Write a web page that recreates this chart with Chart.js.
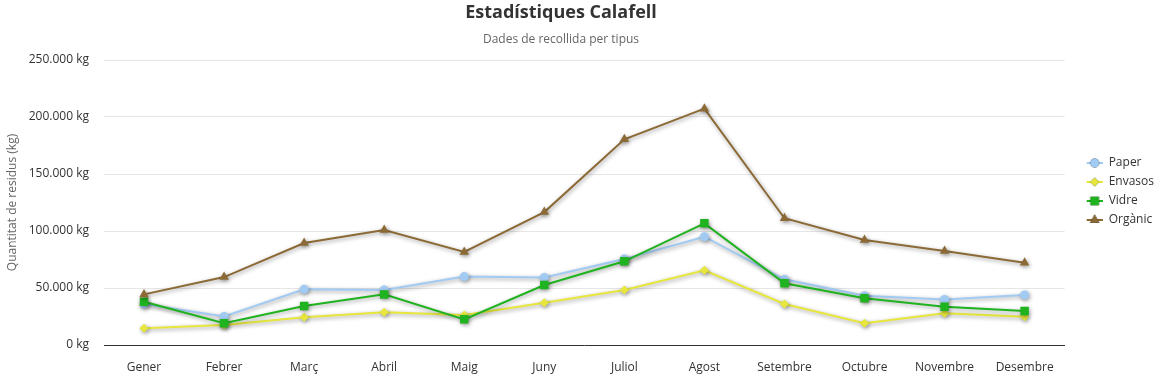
<!DOCTYPE html>
<html>
<head>
<meta charset="utf-8">
<script src="https://cdn.jsdelivr.net/npm/chart.js@4.4.1/dist/chart.umd.min.js"></script>
<style>
  html, body { margin: 0; padding: 0; background: #fff; }
  #wrap { width: 1160px; height: 377px; }
</style>
</head>
<body>
<div id="wrap"><canvas id="calafell-chart"></canvas></div>
<script>
// Dades llegides del gràfic (kg per mes)
const mesos = ['Gener', 'Febrer', 'Març', 'Abril', 'Maig', 'Juny', 'Juliol', 'Agost', 'Setembre', 'Octubre', 'Novembre', 'Desembre'];
const paper = [36000, 25000, 48800, 48200, 60000, 59300, 75400, 95000, 57600, 43300, 40000, 43900];
const envasos = [14600, 17500, 24300, 28700, 26300, 37100, 48200, 65500, 36000, 19000, 27800, 24800];
const vidre = [38000, 19000, 34200, 44400, 22500, 52600, 73400, 106700, 54100, 41000, 33600, 29800];
const organic = [44400, 59600, 89500, 100900, 81600, 116600, 180400, 207300, 111200, 92100, 82400, 72100];
const yTicks = [0, 50000, 100000, 150000, 200000, 250000];

const FONT = 'Open Sans, sans-serif';

const series = [
  { label: 'Paper', data: paper, color: '#a2cbf4', style: 'circle', radius: 4.5 },
  { label: 'Envasos', data: envasos, color: '#e6e63c', style: 'rectRot', radius: 4.5 },
  { label: 'Vidre', data: vidre, color: '#1fb31f', style: 'rect', radius: 6 },
  { label: 'Orgànic', data: organic, color: '#8c6a36', style: 'triangle', radius: 5.5 },
];

function formatKg(v) {
  return String(v).replace(/\B(?=(\d{3})+(?!\d))/g, '.') + ' kg';
}

// Símbol de la llegenda: línia curta amb el marcador al mig
// (el canvas té un marge transparent a l'esquerra)
function legendSymbol(s) {
  const c = document.createElement('canvas');
  c.width = 31;
  c.height = 12;
  const g = c.getContext('2d');
  g.strokeStyle = s.color;
  g.lineWidth = 2;
  g.beginPath();
  g.moveTo(15, 6);
  g.lineTo(31, 6);
  g.stroke();
  Chart.helpers.drawPoint(g, { pointStyle: s.style, radius: s.radius, rotation: 0, borderWidth: 0 }, 23, 6);
  g.fillStyle = s.color;
  g.fill();
  return c;
}

// Ombra a les línies
const shadowPlugin = {
  id: 'lineShadow',
  beforeDatasetDraw(chart) {
    const ctx = chart.ctx;
    ctx.save();
    ctx.shadowColor = 'rgba(0, 0, 0, 0.4)';
    ctx.shadowBlur = 4;
    ctx.shadowOffsetX = 1;
    ctx.shadowOffsetY = 1.5;
  },
  afterDatasetDraw(chart) {
    chart.ctx.restore();
  },
};

const symbols = series.map(legendSymbol);

new Chart(document.getElementById('calafell-chart'), {
  type: 'line',
  data: {
    labels: mesos,
    datasets: series.map((s, i) => ({
      label: s.label,
      data: s.data,
      borderColor: s.color,
      backgroundColor: s.color,
      borderWidth: 2,
      tension: 0,
      pointStyle: s.style,
      pointRadius: s.radius,
      pointBorderWidth: 0,
      pointBackgroundColor: s.color,
      order: series.length - i, // l'últim es dibuixa a sobre
    })),
  },
  options: {
    responsive: true,
    maintainAspectRatio: false,
    animation: false,
    layout: {
      padding: { left: -42, right: -4, top: 0, bottom: -6 },
    },
    plugins: {
      title: {
        display: true,
        text: 'Estadístiques Calafell',
        color: '#333333',
        font: { family: FONT, size: 18, weight: 'bold' },
        padding: { top: 2, bottom: 4 },
      },
      subtitle: {
        display: true,
        text: 'Dades de recollida per tipus',
        color: '#666666',
        font: { family: FONT, size: 12 },
        padding: { top: 5, bottom: 13 },
      },
      legend: {
        position: 'right',
        labels: {
          usePointStyle: true,
          pointStyleWidth: 31,
          padding: 7,
          color: '#333333',
          font: { family: FONT, size: 12 },
          generateLabels(chart) {
            return chart.data.datasets.map((ds, i) => ({
              text: ds.label,
              datasetIndex: i,
              pointStyle: symbols[i],
              fontColor: '#333333',
              hidden: !chart.isDatasetVisible(i),
              lineWidth: 0,
            }));
          },
        },
      },
      tooltip: { enabled: false },
    },
    scales: {
      x: {
        offset: true,
        grid: { display: false, drawTicks: false },
        border: { display: true, color: '#333333', width: 1 },
        ticks: {
          color: '#333333',
          padding: 15,
          maxRotation: 0,
          font: { family: FONT, size: 12 },
        },
        afterFit(axis) {
          axis.height = 38;
        },
      },
      y: {
        min: 0,
        max: 250000,
        afterBuildTicks(axis) {
          axis.ticks = yTicks.map((v) => ({ value: v }));
        },
        afterFit(axis) {
          axis.width = 146;
        },
        grid: { color: '#e6e6e6', drawTicks: false },
        border: { display: false },
        title: {
          display: true,
          text: 'Quantitat de residus (kg)',
          color: '#666666',
          font: { family: FONT, size: 12 },
          padding: { top: 47, bottom: 0 },
        },
        ticks: {
          color: '#333333',
          padding: 15,
          font: { family: FONT, size: 12 },
          callback: (v) => formatKg(v),
        },
      },
    },
  },
  plugins: [shadowPlugin],
});
</script>
</body>
</html>
